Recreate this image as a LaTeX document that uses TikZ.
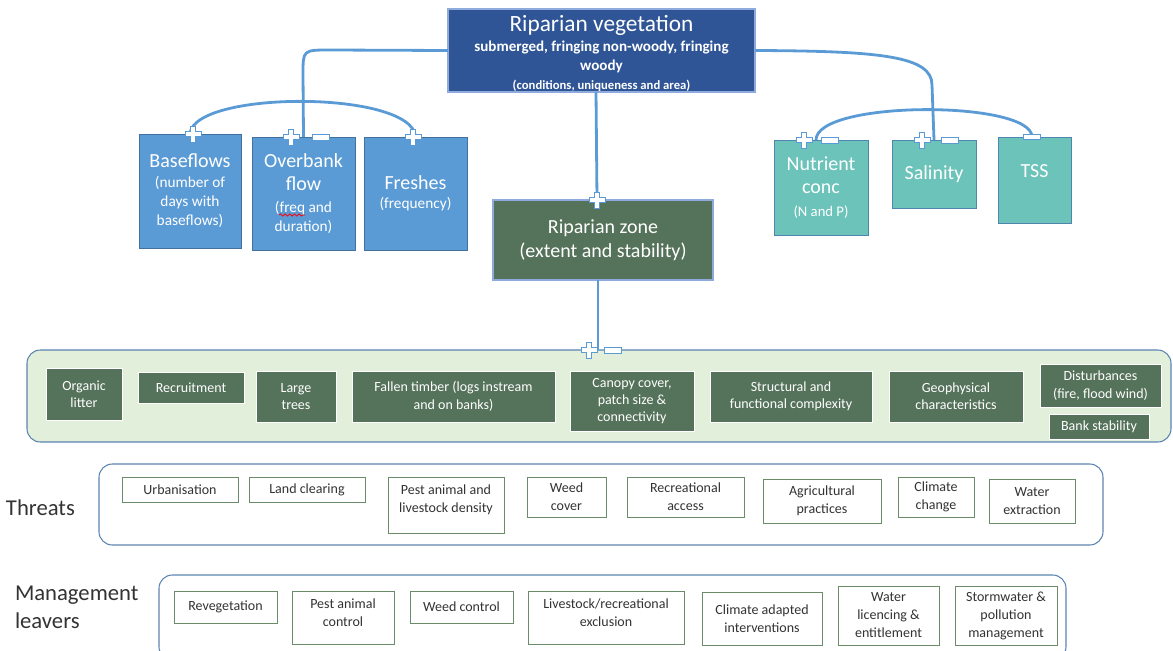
\documentclass[tikz,border=0pt]{standalone}
\usepackage{fontspec}
\setmainfont{Carlito}
\usetikzlibrary{decorations.pathmorphing}
\definecolor{vegblue}{HTML}{2F5597}
\definecolor{vegedge}{HTML}{8FAADC}
\definecolor{flowblue}{HTML}{5B9BD5}
\definecolor{flowedge}{HTML}{41719C}
\definecolor{zonegreen}{HTML}{55725A}
\definecolor{wqteal}{HTML}{6BC3B9}
\definecolor{wqedge}{HTML}{4F86B0}
\definecolor{panelfill}{HTML}{E2EFDA}
\definecolor{paneledge}{HTML}{5B84B1}
\definecolor{threatedge}{HTML}{6B8C6B}
\definecolor{linkblue}{HTML}{5B9BD5}
\definecolor{signblue}{HTML}{5B9BD5}
\definecolor{darktext}{HTML}{333333}
\newcommand\rbox[6][]{\node[#1, minimum width={(#4-#2)*0.75pt}, minimum height={(#5-#3)*0.75pt}] (#6) at ({(#2+#4)/2},{(#3+#5)/2})}
\newcommand\bigf{\fontsize{15}{17}\selectfont}
\begin{document}
\begin{tikzpicture}[x=0.75pt,y=-0.75pt,
  every node/.style={inner sep=0pt, outer sep=0pt, align=center},
  vegbox/.style={fill=vegblue, draw=vegedge, line width=0.8pt, text=white, font=\fontsize{11.3}{14.2}\selectfont\bfseries},
  flowbox/.style={fill=flowblue, draw=flowedge, line width=0.7pt, text=white, font=\fontsize{11.5}{14.5}\selectfont},
  zonebox/.style={fill=zonegreen, draw=vegedge, line width=0.8pt, text=white, font=\fontsize{15}{18}\selectfont},
  wqbox/.style={fill=wqteal, draw=wqedge, line width=0.7pt, text=white, font=\fontsize{15}{17.5}\selectfont},
  panelbox/.style={fill=panelfill, draw=paneledge, line width=0.8pt, rounded corners=10pt},
  outerbox/.style={fill=white, draw=paneledge, line width=0.8pt, rounded corners=10pt},
  attrbox/.style={fill=zonegreen, draw=white, line width=0.7pt, text=white, font=\fontsize{10.5}{13}\selectfont},
  threatbox/.style={fill=white, draw=threatedge, line width=0.7pt, text=darktext, font=\fontsize{10.5}{13.5}\selectfont},
  link/.style={draw=linkblue, line width=2.1pt},
  plussign/.pic={\filldraw[fill=white,draw=signblue,line width=0.7pt] (-8,-2.8)--(-2.8,-2.8)--(-2.8,-8)--(2.8,-8)--(2.8,-2.8)--(8,-2.8)--(8,2.8)--(2.8,2.8)--(2.8,8)--(-2.8,8)--(-2.8,2.8)--(-8,2.8)--cycle;},
  minussign/.pic={\filldraw[fill=white,draw=signblue,line width=0.7pt] (-8.5,-3) rectangle (8.5,3);},
  smallminus/.pic={\filldraw[fill=white,draw=signblue,line width=0.7pt] (-8.5,-2.5) rectangle (8.5,2.5);}
]
\useasboundingbox (0,0) rectangle (1173,650);
\clip (0,0) rectangle (1173,650);

% ---- top box
\rbox[vegbox]{448}{9}{755}{92}{veg}{\fontsize{17.5}{18}\selectfont\mdseries\rule{0pt}{16.5pt}Riparian vegetation\\[1pt]submerged, fringing non-woody, fringing\\woody\\\fontsize{9.5}{13}\selectfont (conditions, uniqueness and area)};

% ---- flow boxes
\rbox[flowbox]{139}{134}{241}{248}{base}{\bigf Baseflows\\(number of\\days with\\baseflows)};
\rbox[flowbox]{252}{137}{355}{250}{over}{\bigf Overbank\\[3pt]\bigf flow\\[2pt](freq and\\duration)};
\rbox[flowbox]{364}{137}{467}{250}{fresh}{\bigf Freshes\\(frequency)};

% ---- riparian zone
\rbox[zonebox]{493}{200}{713}{280}{zone}{Riparian zone\\(extent and stability)};

% ---- water quality boxes
\rbox[wqbox]{774}{140}{868}{235}{nut}{Nutrient\\conc\\\fontsize{11}{14}\selectfont (N and P)};
\rbox[wqbox]{892}{140}{976}{208}{sal}{Salinity};
\rbox[wqbox]{998}{137}{1071}{223}{tss}{\raisebox{14pt}{TSS}};

% ---- attribute panel
\rbox[panelbox]{27}{350}{1171}{442}{panel}{};
\rbox[attrbox]{46}{368}{122}{420}{org}{Organic\\litter};
\rbox[attrbox]{138}{372}{244}{403}{rec}{Recruitment};
\rbox[attrbox]{256}{371}{336}{422}{large}{Large\\trees};
\rbox[attrbox]{352}{371}{555}{422}{fall}{Fallen timber (logs instream\\and on banks)};
\rbox[attrbox]{570}{371}{694}{431}{can}{Canopy cover,\\patch size \&\\connectivity};
\rbox[attrbox]{710}{371}{872}{422}{struc}{Structural and\\functional complexity};
\rbox[attrbox]{889}{371}{1023}{422}{geo}{Geophysical\\characteristics};
\rbox[attrbox]{1040}{364}{1161}{407}{dist}{Disturbances\\(fire, flood wind)};
\rbox[attrbox]{1049}{414}{1149}{439}{bank}{Bank stability};

% ---- threats
\node[anchor=west, font=\fontsize{17}{20}\selectfont, text=darktext] (thrlabel) at (6,508) {Threats};
\rbox[outerbox]{99}{464}{1103}{545}{thrpanel}{};
\rbox[threatbox]{122}{477}{238}{502}{urb}{Urbanisation};
\rbox[threatbox]{249}{477}{365}{502}{land}{Land clearing};
\rbox[threatbox]{388}{477}{504}{533}{pest}{Pest animal and\\livestock density\\[-4.5pt]};
\rbox[threatbox]{527}{477}{606}{517}{weed}{Weed\\cover};
\rbox[threatbox]{627}{477}{744}{517}{recr}{Recreational\\access};
\rbox[threatbox]{763}{479}{881}{523}{agri}{Agricultural\\practices};
\rbox[threatbox]{898}{477}{974}{517}{clim}{Climate\\change};
\rbox[threatbox]{989}{479}{1075}{523}{wext}{Water\\extraction};

% ---- management
\node[anchor=west, align=left, font=\fontsize{17}{21}\selectfont, text=darktext] (mglabel) at (15,607) {Management\\leavers};
\rbox[outerbox]{159}{575}{1066}{660}{mgpanel}{};
\rbox[threatbox]{174}{591}{277}{623}{reveg}{Revegetation};
\rbox[threatbox]{292}{591}{394}{644}{pestc}{Pest animal\\control\\[-6.5pt]};
\rbox[threatbox]{410}{591}{513}{623}{weedc}{Weed control};
\rbox[threatbox]{528}{591}{684}{644}{excl}{Livestock/recreational\\exclusion\\[-6.5pt]};
\rbox[threatbox]{702}{592}{822}{645}{cadapt}{Climate adapted\\interventions};
\rbox[threatbox]{838}{586}{939}{645}{wlic}{Water\\licencing \&\\entitlement};
\rbox[threatbox]{955}{586}{1057}{645}{storm}{Stormwater \&\\pollution\\management};

% ---- connectors
\draw[link] (veg.west) -- (330,50) .. controls (303,50) .. (303,74) -- (over.north);
\draw[link] (base.north) .. controls (193,90) and (413,90) .. (fresh.north);
\coordinate (vbot) at (596,92);
\coordinate (ztop) at (597,200);
\draw[link] (vbot) -- (ztop);
\coordinate (zbot) at (598,280);
\coordinate (ptop) at (598,350);
\draw[link] (zbot) -- (ptop);
\draw[link] (veg.east) .. controls (880,51) and (932,56) .. (932,85) -- (sal.north);
\coordinate (nutlink) at (816,140);
\coordinate (tsslink) at (1032,137);
\draw[link] (nutlink) .. controls (816,100) and (1032,100) .. (tsslink);

% ---- spell-check squiggle under "freq"
\coordinate (sqa) at (279,215);
\coordinate (sqb) at (305,215);
\draw[red, line width=0.6pt, decorate, decoration={snake, amplitude=0.8pt, segment length=3.5pt}] (sqa) -- (sqb);

% ---- signs
\pic at (193,134) {plussign};
\pic at (291,137) {plussign};
\pic at (321,137) {minussign};
\pic at (413,137) {plussign};
\pic at (597,200) {plussign};
\pic at (589,350) {plussign};
\pic at (613,350) {minussign};
\pic at (804,140) {plussign};
\pic at (830,140) {minussign};
\pic at (922,140) {plussign};
\pic at (950,140) {minussign};
\pic at (1032,137) {smallminus};
\end{tikzpicture}
\end{document}
